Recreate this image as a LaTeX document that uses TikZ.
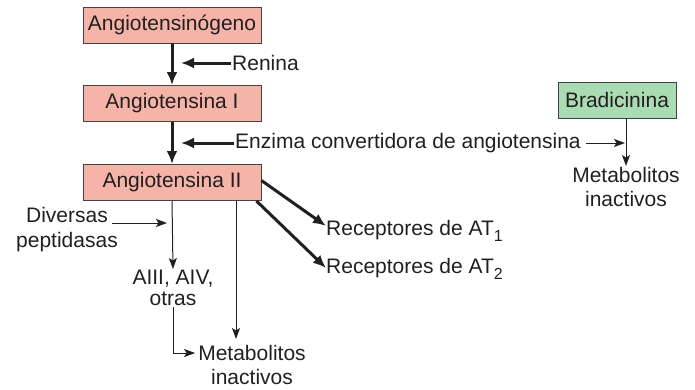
\documentclass[tikz,border=0pt]{standalone}
\usepackage{fontspec}
\setmainfont{Liberation Sans}
\usepackage{tikz}
\usetikzlibrary{arrows.meta}
\usepackage{xcolor}
\definecolor{boxpink}{HTML}{F6B3A8}
\definecolor{boxgreen}{HTML}{A9DCB3}
\definecolor{ink}{HTML}{231F20}
\newcommand{\subnum}[1]{\raisebox{-0.6ex}{\fontsize{16}{16}\selectfont #1}}

\begin{document}
\begin{tikzpicture}[
  x=1pt,
  y=-1pt,
  font=\fontsize{21}{24.5}\selectfont,
  text=ink,
  substance/.style={draw=ink!85,line width=0.9pt,fill=boxpink,
    minimum width=178pt,minimum height=36pt,inner sep=0pt},
  label text/.style={inner sep=1pt,align=center},
  main arrow/.style={draw=ink,line width=3pt,
    -{Latex[length=13pt,width=11pt]}},
  side arrow/.style={draw=ink,line width=1pt,
    -{Stealth[length=11pt,width=8pt,inset=2.5pt]}}
]
  \useasboundingbox (0,0) rectangle (695,389);

  % Cascade of substances.
  \node[substance] (agn) at (172,25) {Angiotensinógeno};
  \node[substance] (ang1) at (172,103.5) {Angiotensina I};
  \node[substance] (ang2) at (172,182.5) {Angiotensina II};
  \node[substance,fill=boxgreen,minimum width=118pt] (brad) at (617,100)
    {Bradicinina};

  % Enzymes and products.
  \node[label text,anchor=west] (ren) at (231,63) {Renina};
  \node[label text,anchor=west] (eca) at (234,143)
    {Enzima convertidora de angiotensina};
  \node[label text] (pept) at (67,229.5) {Diversas\\peptidasas};
  \node[label text,anchor=north,font=\fontsize{21}{21}\selectfont]
    (aiii) at (173,269) {AIII, AIV,\\otras};
  \node[label text,anchor=north] (metb) at (626,166)
    {Metabolitos\\inactivos};
  \node[label text] (meta) at (252,365) {Metabolitos\\inactivos};
  \node[label text,anchor=west] (rat1) at (325,231)
    {Receptores de AT\subnum{1}};
  \node[label text,anchor=west] (rat2) at (325,269)
    {Receptores de AT\subnum{2}};

  % Arrow ends.
  \coordinate (bradout) at (626,118);
  \coordinate (renhit) at (181,63);
  \coordinate (ecahit) at (181,143);
  \coordinate (ecaend) at (625,143);
  \coordinate (peptst) at (112,223);
  \coordinate (peptend) at (167,223);
  \coordinate (metatip) at (236,339);
  \coordinate (rat1tip) at (326,226);
  \coordinate (rat2tip) at (326,268);

  % Main pathway.
  \draw[main arrow] (agn.south) -- (ang1.north);
  \draw[main arrow] (ang1.south) -- (ang2.north);
  \draw[main arrow] (ren.west) -- (renhit);
  \draw[main arrow] (eca.west) -- (ecahit);
  \draw[main arrow] ([yshift=2pt]ang2.east) -- (rat1tip);
  \draw[main arrow] ([xshift=-5pt]ang2.south east) -- (rat2tip);

  % Degradation routes.
  \draw[side arrow] ([xshift=4pt]eca.east) -- (ecaend);
  \draw[side arrow] (bradout) -- (metb.north);
  \draw[side arrow] (peptst) -- (peptend);
  \draw[side arrow] (ang2.south) -- (aiii.north);
  \draw[side arrow] ([xshift=64pt]ang2.south) -- (metatip);
  \draw[side arrow] (aiii.south) |- ([xshift=-2pt,yshift=12pt]meta.west);
\end{tikzpicture}
\end{document}
